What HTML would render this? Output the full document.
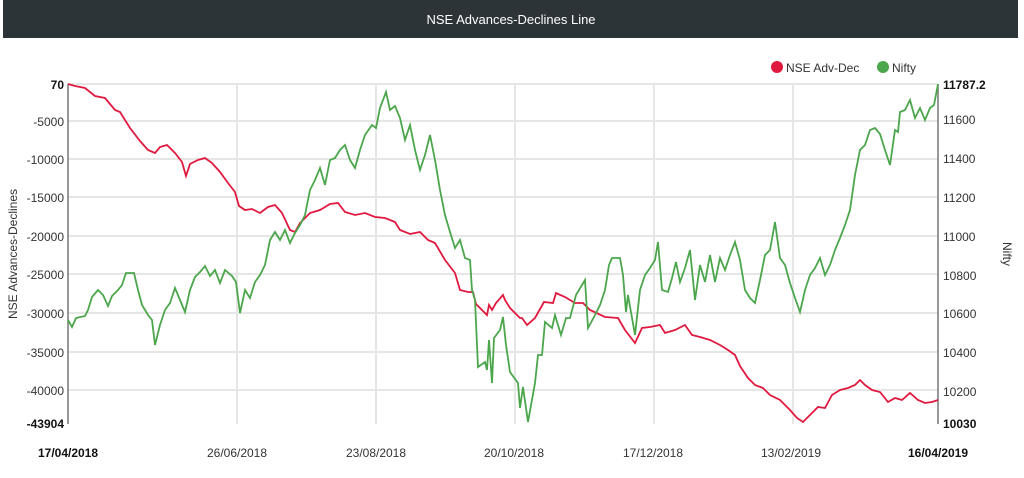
<!DOCTYPE html>
<html><head><meta charset="utf-8"><style>
body{margin:0;background:#fff;width:1024px;height:473px;overflow:hidden;font-family:"Liberation Sans",Arial,sans-serif}
</style></head><body>
<svg width="1024" height="473" xmlns="http://www.w3.org/2000/svg" font-family="Liberation Sans, Arial, sans-serif">
<rect x="3" y="0" width="1015" height="38" fill="#2d3438"/>
<text x="511" y="24" fill="#fff" font-size="13" text-anchor="middle">NSE Advances-Declines Line</text>
<g stroke="#e6e6e6" stroke-width="2">
<line x1="68" y1="84" x2="938" y2="84"/>
<line x1="68" y1="121" x2="938" y2="121"/>
<line x1="68" y1="159" x2="938" y2="159"/>
<line x1="68" y1="197" x2="938" y2="197"/>
<line x1="68" y1="236" x2="938" y2="236"/>
<line x1="68" y1="274" x2="938" y2="274"/>
<line x1="68" y1="313" x2="938" y2="313"/>
<line x1="68" y1="352" x2="938" y2="352"/>
<line x1="68" y1="390" x2="938" y2="390"/>
<line x1="237" y1="84" x2="237" y2="424"/>
<line x1="376" y1="84" x2="376" y2="424"/>
<line x1="515" y1="84" x2="515" y2="424"/>
<line x1="654" y1="84" x2="654" y2="424"/>
<line x1="793" y1="84" x2="793" y2="424"/>
</g>
<line x1="68" y1="84" x2="68" y2="424" stroke="#777" stroke-width="1.5"/>
<line x1="938" y1="84" x2="938" y2="424" stroke="#777" stroke-width="1.5"/>
<g font-size="12" fill="#333" text-anchor="end">
<text x="64" y="89" font-weight="bold" fill="#111">70</text>
<text x="64" y="126">-5000</text>
<text x="64" y="164">-10000</text>
<text x="64" y="202">-15000</text>
<text x="64" y="241">-20000</text>
<text x="64" y="279">-25000</text>
<text x="64" y="318">-30000</text>
<text x="64" y="357">-35000</text>
<text x="64" y="395">-40000</text>
<text x="64" y="428" font-weight="bold" fill="#111">-43904</text>
</g>
<g font-size="12" fill="#333">
<text x="943" y="89" font-weight="bold" fill="#111">11787.2</text>
<text x="943" y="124">11600</text>
<text x="943" y="163">11400</text>
<text x="943" y="202">11200</text>
<text x="943" y="241">11000</text>
<text x="943" y="280">10800</text>
<text x="943" y="318">10600</text>
<text x="943" y="357">10400</text>
<text x="943" y="396">10200</text>
<text x="943" y="428" font-weight="bold" fill="#111">10030</text>
</g>
<g font-size="12" fill="#333" text-anchor="middle">
<text x="68" y="457" font-weight="bold" fill="#111">17/04/2018</text>
<text x="237" y="457">26/06/2018</text>
<text x="376" y="457">23/08/2018</text>
<text x="514" y="457">20/10/2018</text>
<text x="653" y="457">17/12/2018</text>
<text x="791" y="457">13/02/2019</text>
<text x="938" y="457" font-weight="bold" fill="#111">16/04/2019</text>
</g>
<text transform="translate(17,254) rotate(-90)" font-size="12" fill="#333" text-anchor="middle">NSE Advances-Declines</text>
<text transform="translate(1003,254) rotate(90)" font-size="12" fill="#333" text-anchor="middle">Nifty</text>
<circle cx="777" cy="67" r="6" fill="#e0193f"/>
<text x="786" y="72" font-size="12" fill="#333">NSE Adv-Dec</text>
<circle cx="883" cy="67" r="6" fill="#4ca64c"/>
<text x="892" y="72" font-size="12" fill="#333">Nifty</text>
<polyline fill="none" stroke="#e0193f" stroke-width="1.8" points="68,84 75,86 85,88 95,96 105,98 115,110 120,112 130,128 140,141 148,150 155,153 160,147 167,145 175,153 182,162 186,176 190,164 198,160 205,158 212,163 220,172 228,183 235,192 239,206 245,210 252,209 260,213 268,207 275,205 282,213 290,230 295,232 300,223 310,213 320,210 330,204 338,203 345,212 355,215 365,213 375,217 385,218 395,222 400,230 410,234 420,232 428,240 435,243 445,260 455,273 460,290 468,292 473,292 476,304 487,315 489,305 492,310 496,303 503,295 505,300 510,308 520,318 522,318 527,325 535,318 544,302 553,303 556,293 565,297 575,303 583,303 590,310 605,317 618,318 625,330 635,343 642,328 650,327 660,325 665,333 675,330 685,325 692,335 700,337 710,340 720,345 728,350 735,355 740,366 748,378 755,385 763,388 770,395 780,400 790,410 797,418 803,422 810,415 818,407 825,408 832,395 840,390 848,388 855,385 860,380 865,385 872,390 880,392 888,402 895,398 902,400 910,393 918,400 925,403 932,402 938,400"/>
<polyline fill="none" stroke="#4ca64c" stroke-width="1.8" points="68,320 72,327 76,318 85,316 88,310 92,297 98,290 103,295 108,306 112,296 118,290 122,285 126,273 134,273 138,290 142,305 148,315 152,320 155,345 160,325 165,310 170,303 175,288 180,300 185,312 190,290 195,277 200,272 205,266 210,276 215,270 220,283 225,270 232,276 236,282 240,313 245,290 250,298 255,282 260,275 265,265 270,240 275,232 280,240 285,230 290,243 295,233 300,225 305,215 310,190 315,180 320,168 325,185 330,160 335,158 340,150 345,145 350,160 355,168 360,150 365,135 372,125 376,128 380,108 386,92 390,110 395,106 400,118 405,140 410,125 415,150 420,170 425,155 430,135 435,160 440,190 445,215 450,232 455,248 460,240 465,258 470,260 472,290 475,300 478,367 485,362 487,370 489,340 492,383 494,338 500,330 503,317 506,345 510,372 518,383 520,408 523,387 528,422 535,383 538,355 542,355 545,322 552,328 555,315 561,335 566,318 570,318 576,295 585,280 588,328 595,315 600,305 605,290 609,265 612,258 620,258 623,275 626,312 628,295 635,335 640,290 645,275 650,268 655,260 658,242 662,290 668,292 672,278 676,262 680,282 685,268 690,250 695,300 700,265 705,282 710,255 715,282 720,258 725,270 730,255 735,242 740,260 745,290 750,298 755,303 760,280 765,255 770,250 775,222 780,258 785,265 790,283 795,298 800,312 805,290 810,275 815,268 820,258 825,275 830,265 835,250 840,238 845,225 850,210 855,175 860,150 865,145 870,130 875,128 880,134 885,150 890,165 895,130 898,132 900,112 905,110 910,100 915,118 920,108 925,120 930,108 934,105 938,84"/>
</svg>
</body></html>
